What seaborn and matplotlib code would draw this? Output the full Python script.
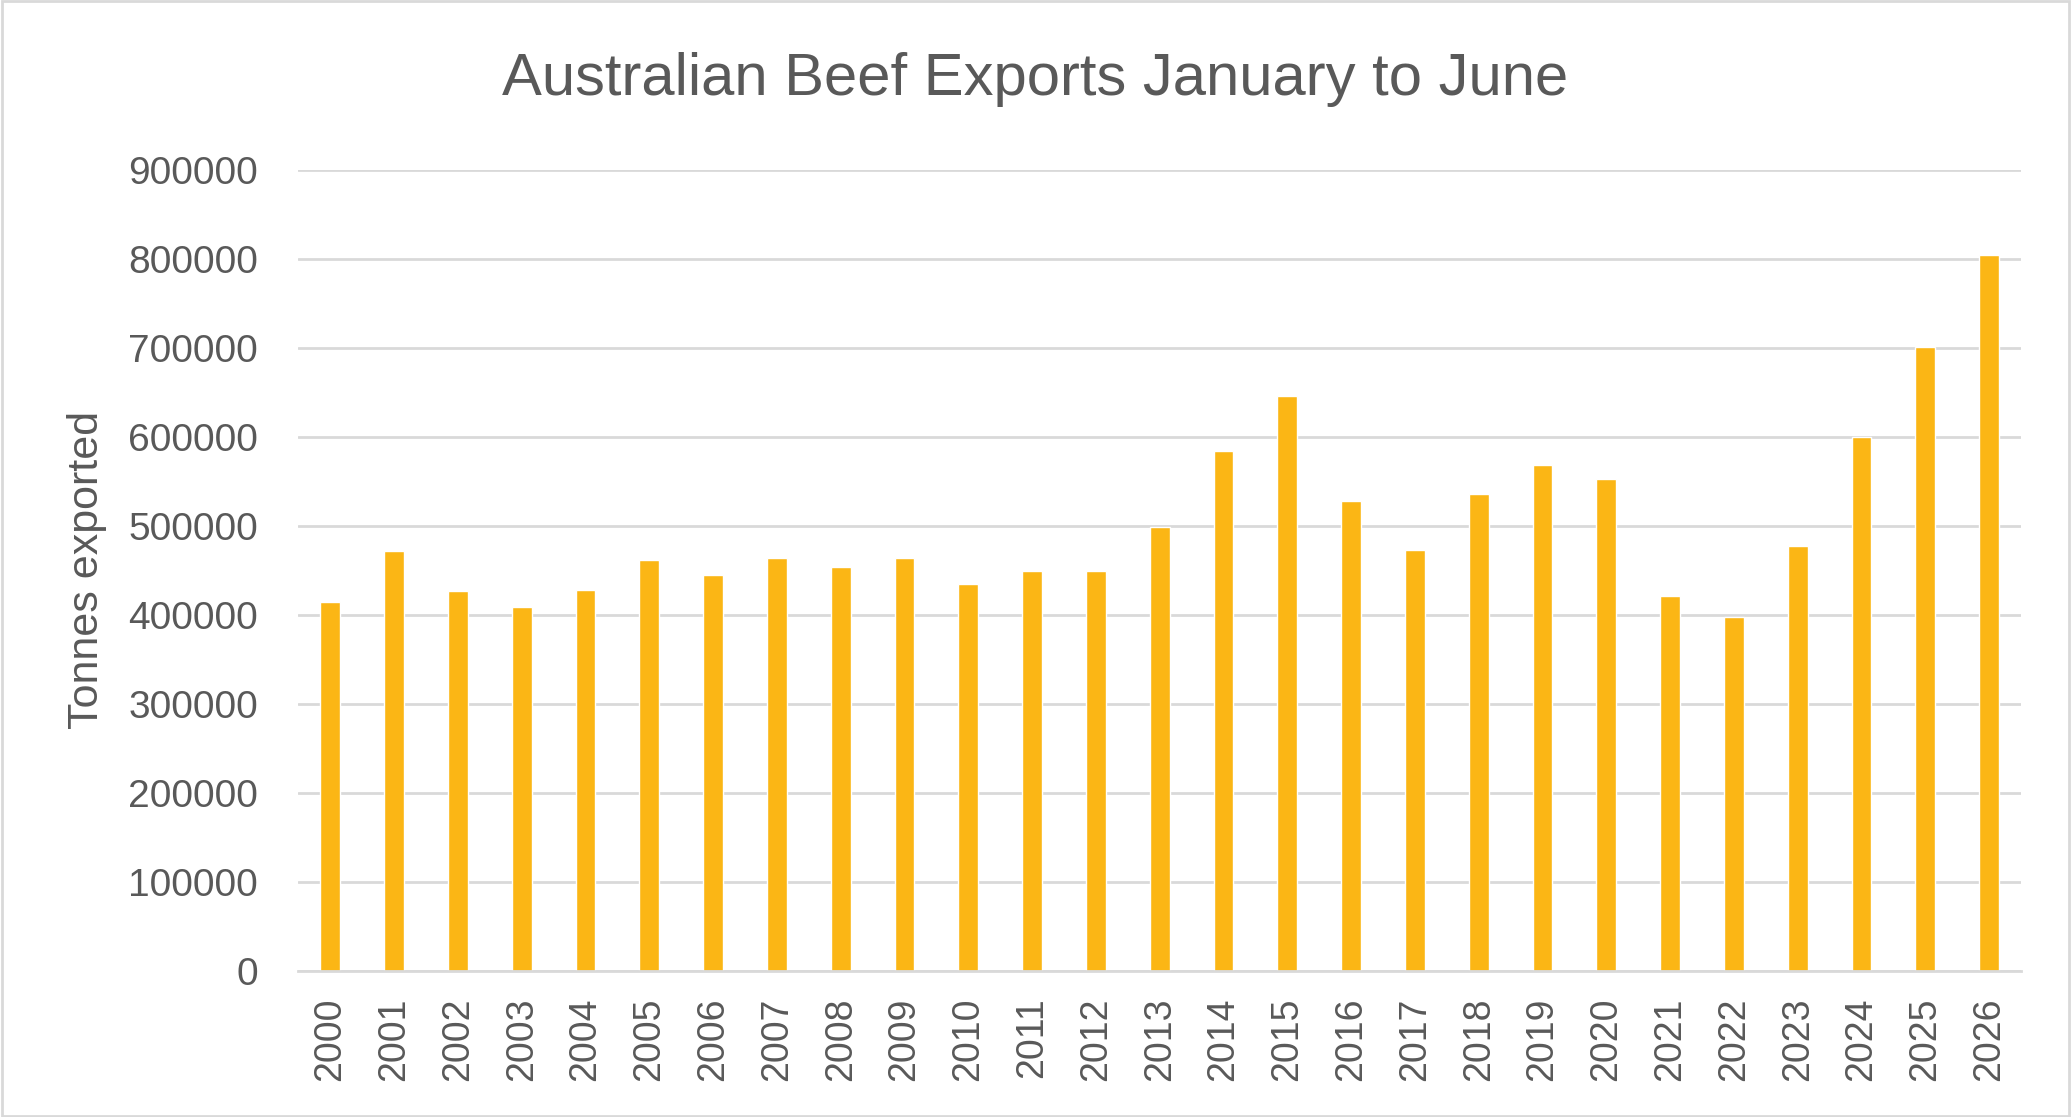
import pandas as pd
import matplotlib
matplotlib.use("Agg")
import matplotlib.pyplot as plt
import seaborn as sns
from matplotlib.patches import Rectangle

# Values (tonnes, January to June)
years = [str(y) for y in range(2000, 2027)]
tonnes = [414600, 472000, 427000, 409000, 428100, 461800, 445000, 464100,
          454000, 464100, 434900, 449500, 449500, 499000, 584400, 646300,
          528200, 473100, 536100, 568700, 552900, 421400, 397800, 477600,
          600100, 701300, 804800]
y_ticks = list(range(0, 900001, 100000))

BAR = "#FBB615"
TEXT = "#595959"
GRID = "#D9D9D9"

sns.set_style("white")
plt.rcParams['font.family'] = ['Liberation Sans', 'DejaVu Sans']

df = pd.DataFrame({'year': years, 'tonnes': tonnes})

fig = plt.figure(figsize=(20.71, 11.17), dpi=100)
ax = fig.add_axes([0.1441, 0.1309, 0.9759 - 0.1441, 0.8474 - 0.1309])

sns.barplot(data=df, x='year', y='tonnes', color=BAR, width=0.31,
            saturation=1, ax=ax)

ax.set_ylim(0, 900000)
ax.set_xlim(-0.5, len(years) - 0.5)
ax.set_yticks(y_ticks)
ax.set_yticklabels([str(v) for v in y_ticks])
ax.set_axisbelow(True)
ax.yaxis.grid(True, color=GRID, linewidth=2)
ax.xaxis.grid(False)
for side in ['top', 'right', 'left']:
    ax.spines[side].set_visible(False)
ax.spines['bottom'].set_color(GRID)
ax.spines['bottom'].set_linewidth(2)
ax.tick_params(axis='both', length=0, colors=TEXT)
ax.tick_params(axis='y', pad=29, labelsize=28)
ax.tick_params(axis='x', pad=19, labelrotation=90, labelsize=27)

ax.set_xlabel('')
ax.set_ylabel('')
fig.text(0.042, 0.49, 'Tonnes exported', rotation=90, ha='center', va='center',
         color=TEXT, fontsize=31)
fig.text(0.5, 0.929, 'Australian Beef Exports January to June', ha='center',
         va='center', color=TEXT, fontsize=43)

# light border round the chart area
fig.patches.append(Rectangle((0.001, 0.001), 0.998, 0.998, transform=fig.transFigure,
                             fill=False, edgecolor=GRID, linewidth=2))

fig.savefig('out.png', dpi=100)
